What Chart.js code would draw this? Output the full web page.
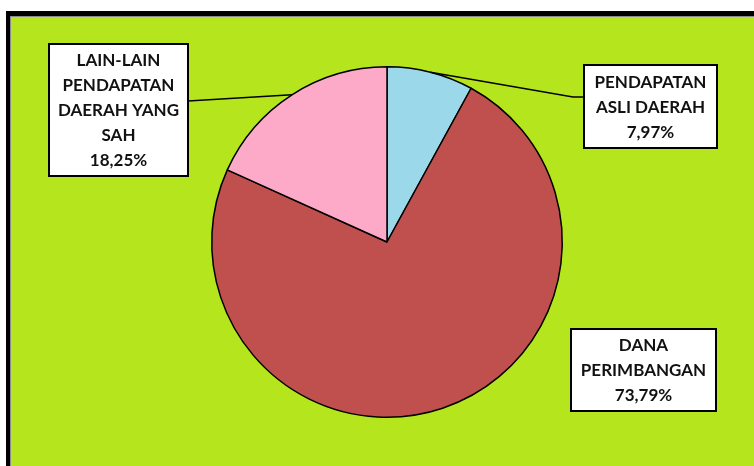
<!DOCTYPE html>
<html>
<head>
<meta charset="utf-8">
<script src="https://cdn.jsdelivr.net/npm/chart.js@4/dist/chart.umd.min.js"></script>
<style>
  html, body { margin: 0; padding: 0; background: #fff; }
  #wrap { width: 754px; height: 466px; position: relative; }
</style>
</head>
<body>
<div id="wrap"><canvas id="myChart"></canvas></div>
<script>
// data
var categories = ['PENDAPATAN ASLI DAERAH', 'DANA PERIMBANGAN', 'LAIN-LAIN PENDAPATAN DAERAH YANG SAH'];
var shares = [7.97, 73.79, 18.25];
var labelLines = [
    ['PENDAPATAN', 'ASLI DAERAH'],
    ['DANA', 'PERIMBANGAN'],
    ['LAIN-LAIN', 'PENDAPATAN', 'DAERAH YANG', 'SAH']
];
var sliceColors = ['#9bd9ea', '#c0504d', '#fcaac8'];

// label boxes (x, y, w, h) and whether a leader line is drawn
var boxes = [
    { x: 584, y: 65, w: 133, h: 83, lead: true, side: 'left', ly: 97 },
    { x: 571, y: 329, w: 145, h: 82, lead: false },
    { x: 49, y: 44, w: 139, h: 132, lead: true, side: 'right', ly: 101 }
];

function fmt(v) {
    return v.toFixed(2).replace('.', ',') + '%';
}

var frame = {
    id: 'frame',
    beforeDraw: function (chart) {
        var c = chart.ctx;
        c.save();
        c.fillStyle = '#ffffff';
        c.fillRect(0, 0, chart.width, chart.height);
        c.fillStyle = '#000000';
        c.fillRect(6, 11, chart.width - 6, chart.height - 11);
        c.fillStyle = '#8a8a8a';
        c.fillRect(10, 16, chart.width - 10, chart.height - 16);
        c.fillStyle = '#b5e61d';
        c.fillRect(11, 17, chart.width - 11, chart.height - 17);
        c.restore();
    }
};

var boxLabels = {
    id: 'boxLabels',
    afterDatasetsDraw: function (chart) {
        var c = chart.ctx;
        var arcs = chart.getDatasetMeta(0).data;
        c.save();
        arcs.forEach(function (arc, i) {
            var b = boxes[i];
            var p = arc.getProps(['x', 'y', 'startAngle', 'endAngle', 'outerRadius'], true);
            if (b.lead) {
                var mid = (p.startAngle + p.endAngle) / 2;
                var ex = p.x + Math.cos(mid) * p.outerRadius;
                var ey = p.y + Math.sin(mid) * p.outerRadius;
                c.strokeStyle = '#000';
                c.lineWidth = 1.5;
                c.beginPath();
                c.moveTo(ex, ey);
                if (b.side === 'left') {
                    c.lineTo(b.x - 11, b.ly);
                    c.lineTo(b.x, b.ly);
                } else {
                    c.lineTo(b.x + b.w, b.ly);
                }
                c.stroke();
            }
            c.fillStyle = '#fff';
            c.fillRect(b.x, b.y, b.w, b.h);
            c.strokeStyle = '#000';
            c.lineWidth = 2;
            c.strokeRect(b.x, b.y, b.w, b.h);

            var lines = labelLines[i].concat([fmt(shares[i])]);
            var step = 25;
            var top = b.y + b.h / 2 - (lines.length - 1) * step / 2;
            c.fillStyle = '#111';
            c.font = 'bold 17px Lato, "Open Sans", sans-serif';
            c.textAlign = 'center';
            c.textBaseline = 'middle';
            lines.forEach(function (t, k) {
                c.fillText(t, b.x + b.w / 2, top + k * step + 1);
            });
        });
        c.restore();
    }
};

var ctx = document.getElementById('myChart').getContext('2d');
var chart = new Chart(ctx, {
    type: 'pie',
    data: {
        labels: categories,
        datasets: [{
            data: shares,
            backgroundColor: sliceColors,
            borderColor: '#000',
            borderWidth: 1.5
        }]
    },
    options: {
        responsive: true,
        maintainAspectRatio: false,
        animation: false,
        layout: { padding: { left: 211, right: 191, top: 66, bottom: 48 } },
        plugins: {
            legend: { display: false },
            tooltip: { enabled: false }
        }
    },
    plugins: [frame, boxLabels]
});
</script>
</body>
</html>
